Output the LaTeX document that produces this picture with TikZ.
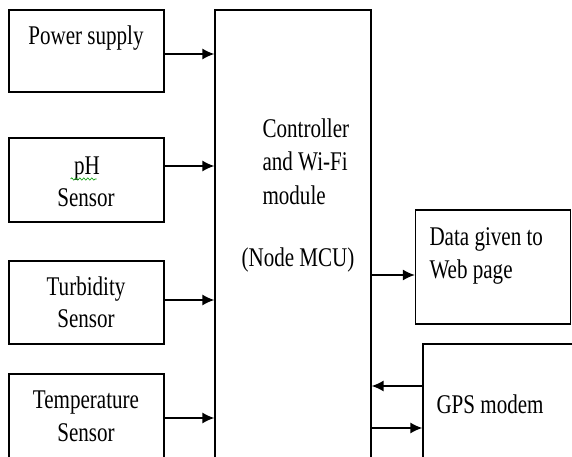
\documentclass[tikz,border=0pt]{standalone}
\usepackage{fontspec}
\setmainfont{Liberation Serif}[FakeStretch=0.78]
\usetikzlibrary{arrows.meta, decorations.pathmorphing}

\tikzset{
  block/.style={draw, line width=1.3pt, minimum width=155pt},
  lbl/.style={anchor=base},
  arr/.style={line width=1.4pt, -{Latex[length=12pt,width=11pt]}}
}

\begin{document}
\begin{tikzpicture}[x=1pt, y=1pt, font=\fontsize{27}{33}\selectfont]

% Page
\useasboundingbox (0,0) rectangle (572,-457);
\clip (0,0) rectangle (572,-457);

% Blocks
\node[block, minimum height=82pt] (psu) at (86.5,-51) {};       % power supply
\node[block, minimum height=84pt] (ph) at (86.5,-180) {};       % pH sensor
\node[block, minimum height=83pt] (turb) at (86.5,-302.5) {};   % turbidity
\node[block, minimum height=90pt] (temp) at (86.5,-419) {};     % temperature
\node[block, minimum width=156pt, minimum height=460pt] (mcu) at (293,-240) {};
\node[block, minimum height=114pt] (web) at (493,-267) {};
\node[block, minimum width=167pt, minimum height=126pt] (gps) at (506.5,-407) {};

% Labels
\node[lbl] (psu-txt) at (86,-45) {Power supply};
\node[lbl] (ph-txt) at (87,-175) {pH};
\node[lbl] (ph-txt2) at (86,-206) {Sensor};
\node[lbl] (turb-txt) at (86,-295) {Turbidity};
\node[lbl] (turb-txt2) at (86,-327) {Sensor};
\node[lbl] (temp-txt) at (86,-408) {Temperature};
\node[lbl] (temp-txt2) at (86,-441) {Sensor};
\node[lbl, anchor=base west] (mcu-txt) at (259,-138) {Controller};
\node[lbl, anchor=base west] (mcu-txt2) at (259,-171) {and Wi-Fi};
\node[lbl, anchor=base west] (mcu-txt3) at (259,-204) {module};
\node[lbl, anchor=base west] (mcu-txt4) at (238,-266) {(Node MCU)};
\node[lbl, anchor=base west] (web-txt) at (426,-245) {Data given to};
\node[lbl, anchor=base west] (web-txt2) at (426,-278) {Web page};
\node[lbl, anchor=base west] (gps-txt) at (433,-413) {GPS modem};

% spell-check squiggle under pH
\draw[green!60!black, line width=0.6pt,
  decorate, decoration={snake, amplitude=1.2pt, segment length=4pt}]
  (ph-txt.base west) ++(0,-4) -- ++(26,0);

% Arrows
\draw[arr] ([yshift=-3pt]psu.east) -- ([yshift=-3pt]psu.east -| mcu.west);
\draw[arr] ([yshift=14pt]ph.east) -- ([yshift=14pt]ph.east -| mcu.west);
\draw[arr] ([yshift=2.5pt]turb.east) -- ([yshift=2.5pt]turb.east -| mcu.west);
\draw[arr] ([yshift=1pt]temp.east) -- ([yshift=1pt]temp.east -| mcu.west);
\draw[arr] ([yshift=-8pt]web.west -| mcu.east) -- ([yshift=-8pt]web.west);
\draw[arr] ([yshift=21pt]gps.west) -- ([yshift=21pt]gps.west -| mcu.east);
\draw[arr] ([yshift=-21pt]gps.west -| mcu.east) -- ([yshift=-21pt]gps.west);

\end{tikzpicture}
\end{document}
